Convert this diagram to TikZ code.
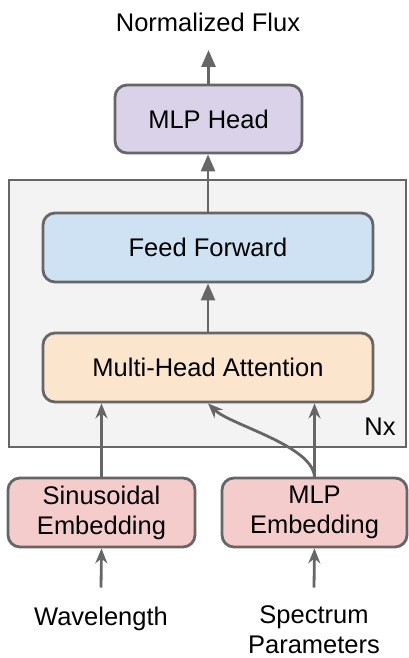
\documentclass[tikz,border=0pt]{standalone}
\usepackage{fontspec}
\setmainfont{Liberation Sans}
\usetikzlibrary{arrows.meta,calc}
\definecolor{edge}{HTML}{666666}
\definecolor{blockbg}{HTML}{F3F3F3}
\definecolor{ffblue}{HTML}{CFE2F3}
\definecolor{attorange}{HTML}{FCE5CD}
\definecolor{headpurple}{HTML}{D9D2E9}
\definecolor{embred}{HTML}{F4CCCC}
\begin{document}
\begin{tikzpicture}[x=1pt,y=-1pt,
  txt/.style={font=\fontsize{25.5}{30}\selectfont, text=black, align=center},
  blk/.style={txt, draw=edge, line width=2.8pt, rounded corners=12pt, inner sep=0pt},
  flowup/.style={draw=edge, line width=2.8pt, -{Triangle[length=17pt,width=14pt]}},
  feedup/.style={draw=edge, line width=2.8pt, -{Stealth[length=15pt,width=12pt,inset=5pt]}}]
  \useasboundingbox (0,0) rectangle (408,658);
  % repeated transformer block
  \node[draw=edge, fill=blockbg, line width=2.8pt, minimum width=397pt, minimum height=267pt, inner sep=0pt] (stack) at (207.5,313.5) {};
  \node[txt, anchor=center] (nx) at (380,427) {Nx};
  % blocks
  \node[blk, fill=headpurple, minimum width=187pt, minimum height=68pt] (head) at (208.5,119) {MLP Head};
  \node[blk, fill=ffblue, minimum width=330pt, minimum height=69pt] (ff) at (208,247.5) {Feed Forward};
  \node[blk, fill=attorange, minimum width=330pt, minimum height=69pt] (mha) at (208,367.5) {Multi-Head Attention};
  \node[blk, fill=embred, minimum width=187pt, minimum height=69pt] (sin) at (101.5,512.5) {Sinusoidal\\Embedding};
  \node[blk, fill=embred, minimum width=185pt, minimum height=69pt] (mlpe) at (314.5,512.5) {MLP\\Embedding};
  % inputs and output
  \node[txt, anchor=base, inner sep=0pt] (flux) at (208,32) {Normalized Flux};
  \node[txt, anchor=north, inner sep=0pt] (wl) at (101,607) {Wavelength};
  \node[txt, anchor=north, inner sep=0pt] (sp) at (314,605.5) {Spectrum\\Parameters};
  \coordinate (out) at (208.5,50);
  % connectors
  \draw[flowup] (head.north) -- (out);
  \draw[flowup] (ff.north) -- (ff.north |- head.south);
  \draw[flowup] (mha.north) -- (mha.north |- ff.south);
  \draw[feedup] (sin.north) -- (sin.north |- mha.south);
  \draw[feedup] (mlpe.north) -- (mlpe.north |- mha.south);
  \draw[feedup] (mlpe.north) .. controls (312,445) and (230,425) .. (mha.south);
  \draw[feedup] ([yshift=19.5pt]wl.north) -- (sin.south);
  \draw[feedup] ([yshift=18pt]sp.north) -- (mlpe.south);
\end{tikzpicture}
\end{document}
